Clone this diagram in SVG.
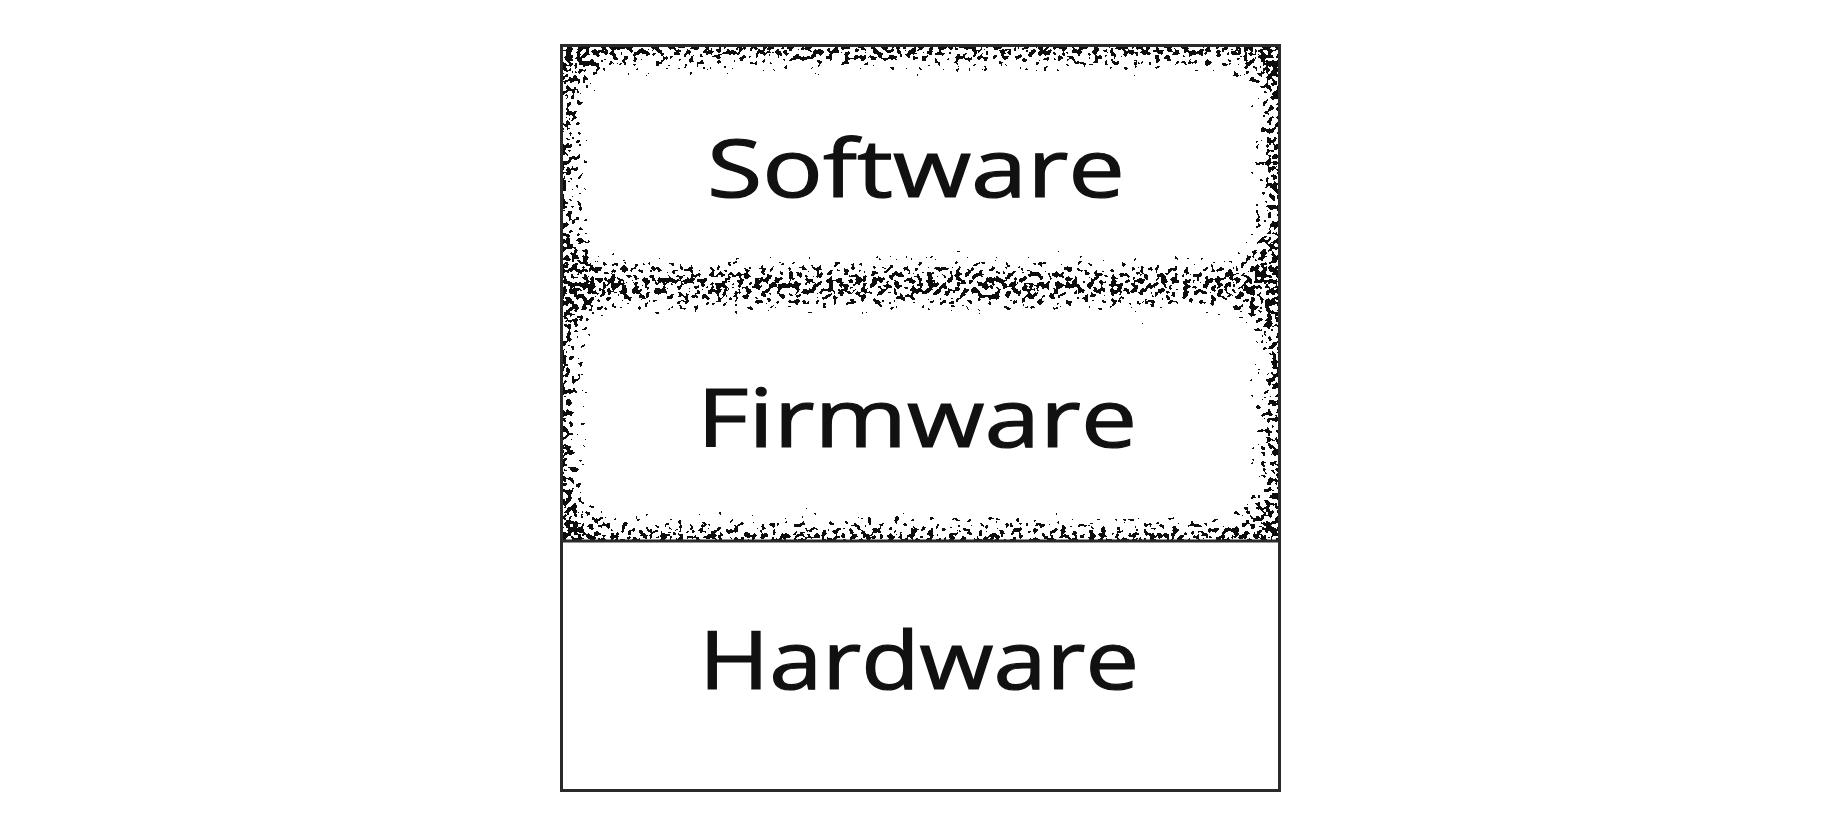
<svg xmlns="http://www.w3.org/2000/svg" width="1848" height="826" viewBox="0 0 1848 826">
  <style>
    .lbl { font-family: "Open Sans", "DejaVu Sans", sans-serif; font-size: 80px; fill: #111; stroke: #111; stroke-width: 1.2px; }
    .frame { fill: none; stroke: #2a2a2a; stroke-width: 3; }
  </style>
  <defs>
    <filter id="stipple" x="0" y="0" width="1" height="1" filterUnits="objectBoundingBox" color-interpolation-filters="sRGB">
      <feGaussianBlur in="SourceGraphic" stdDeviation="15" result="map"/>
      <feTurbulence type="fractalNoise" baseFrequency="0.18" numOctaves="2" seed="11" result="noise"/>
      <feColorMatrix in="noise" type="matrix" values="1 0 0 0 0  1 0 0 0 0  1 0 0 0 0  0 0 0 0 1" result="nr"/>
      <feComposite in="nr" in2="map" operator="arithmetic" k1="0" k2="1" k3="0.5" k4="-0.02" result="sum"/>
      <feComponentTransfer in="sum" result="bw">
        <feFuncR type="discrete" tableValues="0 1"/>
        <feFuncG type="discrete" tableValues="0 1"/>
        <feFuncB type="discrete" tableValues="0 1"/>
      </feComponentTransfer>
      <feColorMatrix in="bw" type="matrix" values="0 0 0 0 0.05  0 0 0 0 0.05  0 0 0 0 0.05  -1 0 0 0 1"/>
    </filter>
    <clipPath id="topClip">
      <rect x="563" y="47" width="715" height="493"/>
    </clipPath>
  </defs>

  <rect width="1848" height="826" fill="#ffffff"/>

  <g id="texture" clip-path="url(#topClip)">
    <g filter="url(#stipple)">
      <rect x="520" y="10" width="800" height="570" fill="#000"/>
      <rect x="584" y="70" width="672" height="190" rx="30" fill="#fff"/>
      <rect x="584" y="310" width="672" height="208" rx="30" fill="#fff"/>
    </g>
  </g>

  <g id="software">
    <text class="lbl" x="707" y="197" textLength="418" lengthAdjust="spacingAndGlyphs">Software</text>
  </g>
  <g id="firmware">
    <text class="lbl" x="697" y="447" textLength="440" lengthAdjust="spacingAndGlyphs">Firmware</text>
  </g>
  <g id="hardware">
    <rect x="561.5" y="541" width="718" height="249.5" fill="none"/>
    <text class="lbl" x="699" y="689" textLength="440" lengthAdjust="spacingAndGlyphs">Hardware</text>
  </g>

  <g id="connectors">
    <rect class="frame" x="561.5" y="45.5" width="718" height="745"/>
    <line class="frame" x1="561.5" y1="541" x2="1279.5" y2="541"/>
  </g>
</svg>
